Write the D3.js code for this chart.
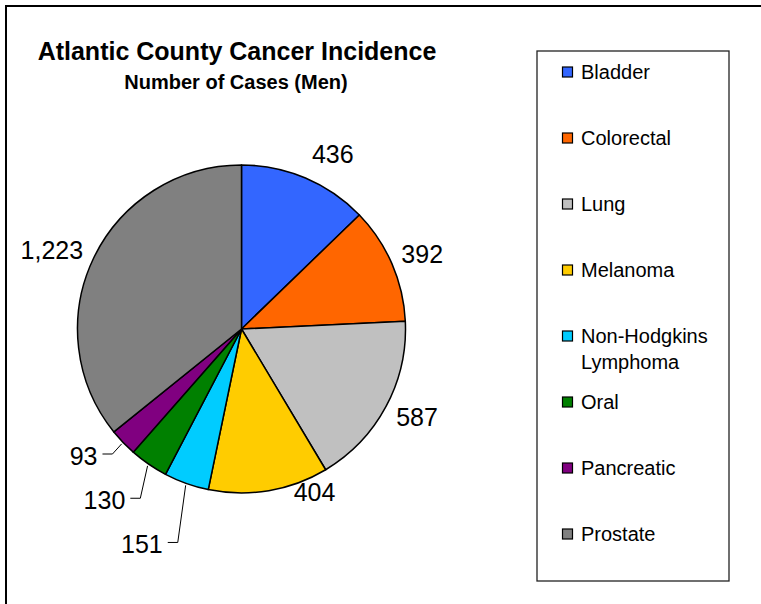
<!DOCTYPE html>
<html>
<head>
<meta charset="utf-8">
<script src="https://cdn.jsdelivr.net/npm/d3@7"></script>
<style>
  html, body { margin: 0; padding: 0; background: #fff; }
  svg { display: block; font-family: "Liberation Sans", Arial, sans-serif; }
</style>
</head>
<body>
<svg id="chart" width="761" height="604"></svg>
<script>
// ---- data ----
const categories = ["Bladder", "Colorectal", "Lung", "Melanoma", "Non-Hodgkins Lymphoma", "Oral", "Pancreatic", "Prostate"];
const values = [436, 392, 587, 404, 151, 130, 93, 1223];
const colors = ["#3366FF", "#FF6600", "#C0C0C0", "#FFCC00", "#00CCFF", "#008000", "#800080", "#808080"];
const titleText = "Atlantic County Cancer Incidence";
const subtitleText = "Number of Cases (Men)";
// label layout (pixel nudges from default outside position) and leader-line flags
const labelNudge = [[14, 8], [-1, 4], [1, -5], [40, -32], [-33, 29], [-25, 8], [-15, -10], [-11, 7]];
const hasLeader = [false, false, false, false, true, true, true, false];

const W = 761, H = 604;
const svg = d3.select("#chart");

// outer frame (extends beyond the window on right/bottom)
svg.append("rect").attr("x", 6).attr("y", 6).attr("width", 800).attr("height", 700)
  .attr("fill", "#fff").attr("stroke", "#000").attr("stroke-width", 2);

// titles
svg.append("text").attr("x", 237).attr("y", 60).attr("text-anchor", "middle")
  .attr("font-size", 25).attr("font-weight", "bold").text(titleText);
svg.append("text").attr("x", 236).attr("y", 89).attr("text-anchor", "middle")
  .attr("font-size", 20).attr("font-weight", "bold").text(subtitleText);

// pie
const cx = 241.5, cy = 329, r = 164;
const pie = d3.pie().sort(null).value(d => d).startAngle(0).endAngle(2 * Math.PI);
const arcs = pie(values);
const arc = d3.arc().innerRadius(0).outerRadius(r);
const labelArc = d3.arc().innerRadius(r + 34).outerRadius(r + 34);
const edgeArc = d3.arc().innerRadius(r + 2).outerRadius(r + 2);

const g = svg.append("g").attr("transform", `translate(${cx},${cy})`);
g.selectAll("path.slice").data(arcs).enter().append("path")
  .attr("class", "slice")
  .attr("d", arc)
  .attr("fill", (d, i) => colors[i])
  .attr("stroke", "#000").attr("stroke-width", 1.5).attr("stroke-linejoin", "round");

const fmt = d3.format(",");
const labels = g.selectAll("text.lbl").data(arcs).enter().append("text")
  .attr("class", "lbl")
  .attr("x", (d, i) => labelArc.centroid(d)[0] + labelNudge[i][0])
  .attr("y", (d, i) => labelArc.centroid(d)[1] + labelNudge[i][1])
  .attr("dy", "0.35em")
  .attr("text-anchor", "middle")
  .attr("font-size", 25)
  .attr("fill", "#000")
  .text(d => fmt(d.data));

// leader lines
labels.each(function (d, i) {
  if (!hasLeader[i]) return;
  const bb = this.getBBox();
  const ly = labelArc.centroid(d)[1] + labelNudge[i][1] - 2;
  const x0 = bb.x + bb.width + 5, x1 = bb.x + bb.width + 15;
  const p = edgeArc.centroid(d);
  g.append("path")
    .attr("d", d3.line()([[x0, ly], [x1, ly], p]))
    .attr("fill", "none").attr("stroke", "#000").attr("stroke-width", 1);
});

// legend
const lx = 537, ly0 = 51, lw = 192, lh = 530;
svg.append("rect").attr("x", lx).attr("y", ly0).attr("width", lw).attr("height", lh)
  .attr("fill", "#fff").attr("stroke", "#222").attr("stroke-width", 1.3);

const legendStep = 66, legendTop = ly0 + 21;
const item = svg.selectAll("g.leg").data(categories).enter().append("g")
  .attr("class", "leg")
  .attr("transform", (d, i) => `translate(${lx},${legendTop + i * legendStep})`);
item.append("rect").attr("x", 25.5).attr("y", -5).attr("width", 10).attr("height", 10)
  .attr("fill", (d, i) => colors[i]).attr("stroke", "#000").attr("stroke-width", 1.2);
item.each(function (d) {
  const t = d3.select(this).append("text").attr("x", 44).attr("y", 0)
    .attr("font-size", 20).attr("fill", "#000");
  // simple word wrap
  const words = d.split(" ");
  let line = [];
  let tspan = t.append("tspan").attr("x", 44).attr("dy", "0.35em");
  words.forEach(w => {
    line.push(w);
    tspan.text(line.join(" "));
    if (tspan.node().getComputedTextLength() > lw - 54 && line.length > 1) {
      line.pop();
      tspan.text(line.join(" "));
      line = [w];
      tspan = t.append("tspan").attr("x", 44).attr("dy", "1.3em").text(w);
    }
  });
});
</script>
</body>
</html>
